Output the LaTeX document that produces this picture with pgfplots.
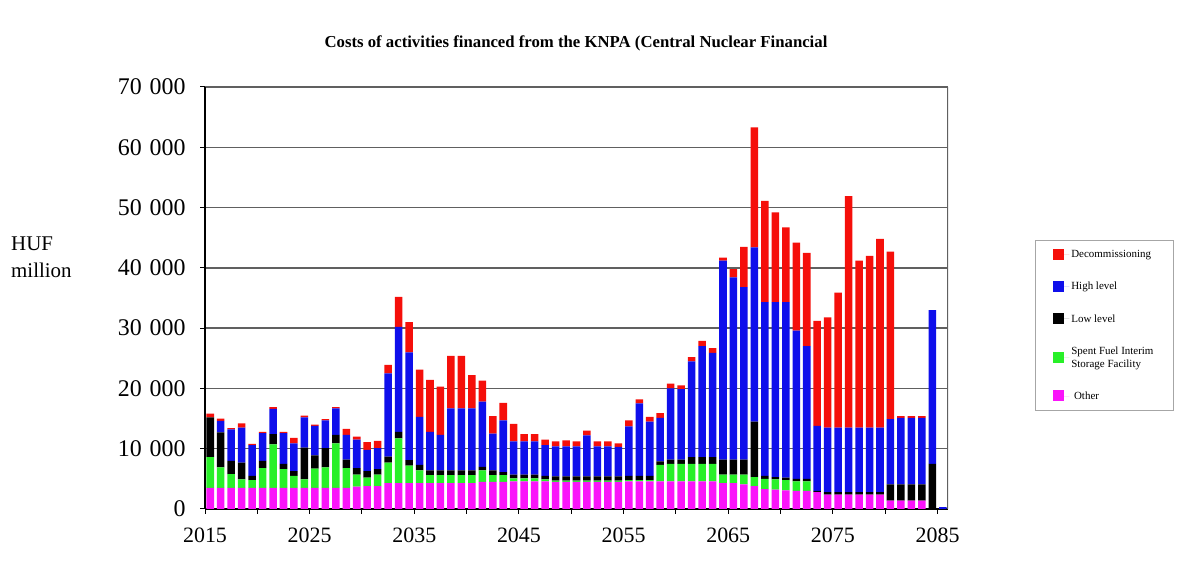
\documentclass[border=0pt]{standalone}
\usepackage{fontspec}
\setmainfont{Liberation Serif}
\usepackage{pgfplots}
\usepackage{pgfplotstable}
\pgfplotsset{compat=1.18}
\definecolor{cDec}{RGB}{245,15,10}
\definecolor{cHigh}{RGB}{15,15,235}
\definecolor{cLow}{RGB}{0,0,0}
\definecolor{cSpent}{RGB}{40,240,40}
\definecolor{cOther}{RGB}{250,20,250}
\pgfplotstableread{
idx other spent low high dec
0 3500 5100 6600 0 600
1 3500 3400 5800 1900 400
2 3500 2300 2200 5200 200
3 3500 1400 2800 5800 700
4 3500 1300 700 5100 200
5 3500 3300 1200 4600 200
6 3500 7200 1700 4200 300
7 3500 3100 900 5100 200
8 3500 2000 800 4600 900
9 3500 1400 5300 5000 300
10 3500 3200 2200 4900 200
11 3500 3400 3200 4600 200
12 3500 7400 1400 4400 200
13 3500 3300 1400 4100 1000
14 3700 2000 1100 4700 500
15 3800 1400 1100 3500 1300
16 3800 1900 900 3500 1200
17 4300 3400 1000 13800 1400
18 4300 7400 1100 17400 5000
19 4300 2900 900 17900 5000
20 4300 2100 900 8000 7800
21 4300 1300 800 6400 8600
22 4300 1300 800 5900 8000
23 4300 1300 800 10300 8700
24 4300 1300 800 10300 8700
25 4300 1300 800 10300 5500
26 4500 1900 600 10800 3500
27 4500 1100 800 6100 2900
28 4500 1100 500 8600 2900
29 4600 500 600 5500 2900
30 4600 500 600 5500 1200
31 4600 500 600 5500 1200
32 4600 300 600 5100 900
33 4500 200 700 5000 800
34 4500 200 700 5000 1000
35 4500 200 700 5000 800
36 4500 200 700 6800 800
37 4500 200 700 5000 800
38 4500 200 700 5000 800
39 4500 200 700 4900 600
40 4600 200 700 8200 1000
41 4600 200 700 12000 700
42 4600 200 700 9000 800
43 4600 2700 600 7200 800
44 4600 2900 700 11800 800
45 4600 2900 700 11700 600
46 4600 2900 1100 15900 700
47 4600 2900 1100 18400 900
48 4600 2900 1100 17300 800
49 4300 1400 2500 33000 500
50 4300 1400 2500 30200 1400
51 4100 1600 2500 28600 6700
52 3800 1500 9200 28900 19900
53 3300 1700 500 28800 16800
54 3200 1700 400 29000 14900
55 3100 1700 400 29100 12400
56 3000 1600 400 24600 14600
57 3000 1600 400 22000 15500
58 2800 0 200 10800 17400
59 2400 0 400 10700 18300
60 2400 0 400 10700 22400
61 2400 0 400 10700 38400
62 2400 0 400 10700 27700
63 2400 0 400 10700 28500
64 2400 0 400 10700 31300
65 1400 0 2700 10800 27800
66 1400 0 2700 11000 300
67 1400 0 2700 11000 300
68 1400 0 2700 11000 300
69 0 0 7500 25500 0
70 0 0 0 300 0
}\data
\newcommand{\ts}{\hspace{0.33em}}
\begin{document}
\begin{tikzpicture}
\path[use as bounding box] (0,0) rectangle (1189bp,576bp);
\begin{axis}[
  at={(205bp,67bp)}, anchor=south west,
  scale only axis, width=743bp, height=422bp,
  ybar stacked, bar width=0.72,
  xmin=-0.5, xmax=70.5, ymin=0, ymax=70000,
  enlargelimits=false,
  scaled y ticks=false,
  axis x line*=bottom, axis y line*=left,
  axis line style={black, line width=1.6bp},
  xtick={-0.5,9.5,19.5,29.5,39.5,49.5,59.5,69.5},
  xticklabels={2015,2025,2035,2045,2055,2065,2075,2085},
  minor xtick={4.5,14.5,24.5,34.5,44.5,54.5,64.5},
  ytick={0,10000,20000,30000,40000,50000,60000,70000},
  yticklabels={0,10\ts000,20\ts000,30\ts000,40\ts000,50\ts000,60\ts000,70\ts000},
  tick align=outside,
  major tick length=5bp, minor tick length=5bp,
  tick style={black, line width=1bp},
  xticklabel style={font=\fontsize{22}{24}\selectfont, yshift=-10bp},
  yticklabel style={font=\fontsize{24}{26}\selectfont, xshift=-11bp},
  ymajorgrids, grid style={gray!75!black, line width=1.5bp},
  legend style={at={(1.117,0.637)}, anchor=north west, draw=gray!70, line width=0.8bp,
    font=\fontsize{11}{13}\selectfont, cells={anchor=west, align=left},
    inner xsep=18bp, inner ysep=8bp, row sep=19bp},
  legend image code/.code={\fill[#1] (0bp,-5bp) rectangle (11bp,6bp); \path (0bp,0bp) -- (16bp,0bp);},
  reverse legend,
]
\addplot[fill=cOther, draw=none] table[x=idx, y=other] {\data};
\addplot[fill=cSpent, draw=none] table[x=idx, y=spent] {\data};
\addplot[fill=cLow, draw=none] table[x=idx, y=low] {\data};
\addplot[fill=cHigh, draw=none] table[x=idx, y=high] {\data};
\addplot[fill=cDec, draw=none] table[x=idx, y=dec] {\data};
\addlegendentry{\ Other}
\addlegendentry{Spent Fuel Interim\\Storage Facility}
\addlegendentry{Low level}
\addlegendentry{High level}
\addlegendentry{Decommissioning}
\draw[gray!75!black, line width=1.5bp] (rel axis cs:1,0) -- (rel axis cs:1,1);
\end{axis}
\node[font=\bfseries\fontsize{16.8}{19}\selectfont] at (576bp,533bp) {Costs of activities financed from the KNPA (Central Nuclear Financial};
\node[anchor=north west, align=left, font=\fontsize{21}{27}\selectfont, inner sep=0pt] at (11bp,339bp) {HUF\\million};
\end{tikzpicture}
\end{document}
